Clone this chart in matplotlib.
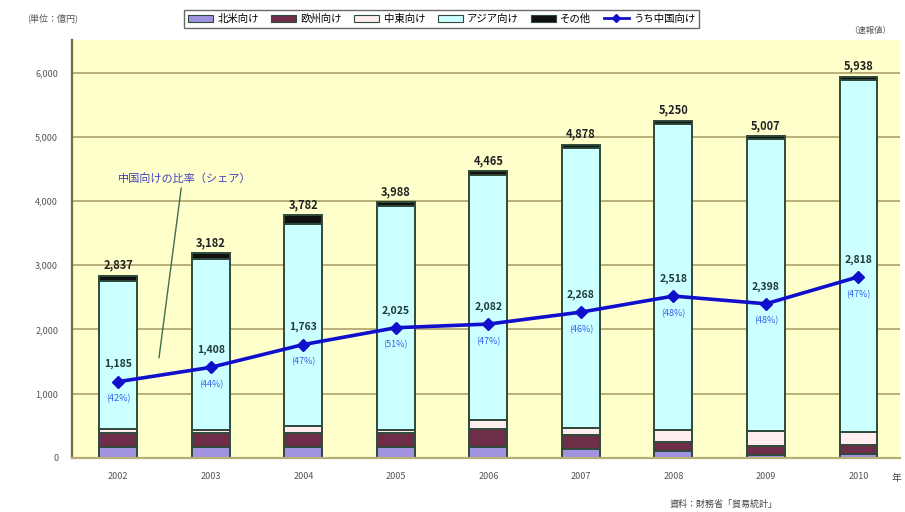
import matplotlib
matplotlib.use("Agg")
import matplotlib.pyplot as plt
from matplotlib.lines import Line2D
from matplotlib.patches import Patch
import numpy as np

plt.rcParams["font.family"] = ["Noto Sans CJK JP", "DejaVu Sans"]

years = ["2002", "2003", "2004", "2005", "2006", "2007", "2008", "2009", "2010"]
totals = [2837, 3182, 3782, 3988, 4465, 4878, 5250, 5007, 5938]
seg_lavender = [170, 160, 160, 160, 160, 130, 110, 50, 60]
seg_maroon = [220, 220, 230, 220, 290, 230, 130, 140, 140]
seg_pink = [60, 50, 110, 50, 130, 110, 190, 230, 200]
seg_black = [80, 90, 140, 60, 60, 50, 50, 40, 50]
china = [1185, 1408, 1763, 2025, 2082, 2268, 2518, 2398, 2818]

series_names = ["北米向け", "欧州向け", "中東向け", "アジア向け", "その他", "うち中国向け"]
yticks = [0, 1000, 2000, 3000, 4000, 5000, 6000]

seg_cyan = [t - a - b - c - d for t, a, b, c, d in
            zip(totals, seg_lavender, seg_maroon, seg_pink, seg_black)]

fig = plt.figure(figsize=(9.05, 5.12), dpi=100)
ax = fig.add_axes([0.0796, 0.106, 0.915, 0.815])
ax.set_facecolor("#FFFFCC")

x = np.arange(len(years))
w = 0.41
edge = "#2F4A3A"
stack = [(seg_lavender, "#A193E0"), (seg_maroon, "#6E2D48"), (seg_pink, "#FFEDEF"),
         (seg_cyan, "#CCFFFF"), (seg_black, "#111111")]
bottom = np.zeros(len(years))
for vals, col in stack:
    ax.bar(x, vals, w, bottom=bottom, color=col, edgecolor=edge, linewidth=1.4, zorder=2)
    bottom += np.array(vals)

ax.plot(x, china, color="#1010CC", linewidth=2.6, marker="D", markersize=6,
        markerfacecolor="#1010CC", markeredgecolor="#1010CC", zorder=4)

for i, t in enumerate(totals):
    ax.text(x[i], t + 60, f"{t:,}", ha="center", va="bottom", fontsize=8,
            fontweight="bold", color="#222222", zorder=5)
for i, c in enumerate(china):
    ax.text(x[i], c + 190, f"{c:,}", ha="center", va="bottom", fontsize=7.5,
            fontweight="bold", color="#1E3A3A", zorder=5)
    share = round(c / totals[i] * 100)
    ax.text(x[i], c - 200, f"({share}%)", ha="center", va="top", fontsize=6.5,
            color="#3060F0", zorder=5)

ax.set_xlim(-0.5, 8.45)
ax.set_ylim(0, 6500)
ax.set_yticks(yticks)
ax.set_yticklabels([f"{v:,}" for v in yticks], fontsize=6.5, color="#555555")
ax.set_xticks(x)
ax.set_xticklabels(years, fontsize=6.5, color="#555555")
ax.tick_params(axis="both", length=0, pad=10)
ax.grid(axis="y", color="#B8AE78", linewidth=1.4, zorder=1)
for s in ["top", "right"]:
    ax.spines[s].set_visible(False)
ax.spines["left"].set_color("#6E6E46")
ax.spines["left"].set_linewidth(1.6)
ax.spines["bottom"].set_color("#B8AE78")
ax.spines["bottom"].set_linewidth(1.6)

# leader from the share note down to the line
ax.text(0.72, 4350, "中国向けの比率（シェア）", ha="center", va="center", fontsize=8,
        color="#4040C0", zorder=5)
ax.plot([0.68, 0.44], [4200, 1560], color="#3F6F4F", linewidth=1.0, zorder=3)

handles = [Patch(facecolor=c, edgecolor=edge, linewidth=0.8) for _, c in stack]
handles.append(Line2D([0], [0], color="#1010CC", linewidth=2, marker="D", markersize=4))
fig.legend(handles, series_names, loc="upper center", bbox_to_anchor=(0.488, 0.99),
           ncol=6, fontsize=7.5, frameon=True, fancybox=False, edgecolor="#444444",
           handlelength=2.4, handletextpad=0.4, columnspacing=1.2,
           borderpad=0.35)

fig.text(0.03, 0.965, "(単位：億円)", fontsize=6.5, color="#555555", va="center")
fig.text(0.962, 0.94, "（速報値）", fontsize=6, color="#555555", ha="center", va="center")
fig.text(0.99, 0.066, "年", fontsize=7, color="#444444", ha="center", va="center")
fig.text(0.80, 0.015, "資料：財務省「貿易統計」", fontsize=6.5, color="#444444",
         ha="center", va="center")

fig.savefig("out.png", dpi=100)
plt.close(fig)
